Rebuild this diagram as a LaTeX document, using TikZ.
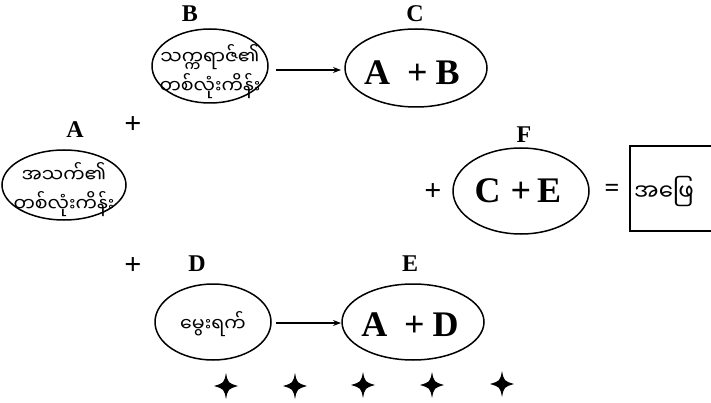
\documentclass[tikz,border=0pt]{standalone}
\usepackage{fontspec}
\usetikzlibrary{arrows.meta}
\setmainfont{Liberation Serif}
\newfontfamily\mya[Script=Myanmar]{Noto Sans Myanmar UI}
\begin{document}
\begin{tikzpicture}[x=1pt,y=-1pt,
  lbl/.style={font=\fontsize{24}{24}\selectfont\bfseries,inner sep=0pt},
  big/.style={font=\fontsize{36}{36}\selectfont\bfseries,inner sep=0pt},
  my/.style={font=\mya\fontsize{19}{29}\selectfont,align=center,inner sep=0pt},
  op/.style={font=\fontsize{30}{30}\selectfont\bfseries,inner sep=0pt},
  arr/.style={line width=1.2pt,-{Stealth[length=8pt,width=6pt]}},
  ov/.style={line width=1.5pt}
]
\useasboundingbox (0,0) rectangle (711,403);
\begin{scope}
\clip (0,0) rectangle (711,403);
% ellipses
\draw[ov] (210,66) ellipse [x radius=58, y radius=37];
\draw[ov] (416,68) ellipse [x radius=71, y radius=39];
\draw[ov] (64,185) ellipse [x radius=62, y radius=35];
\draw[ov] (213,322) ellipse [x radius=58, y radius=38];
\draw[ov] (413,322) ellipse [x radius=71, y radius=38];
\draw[ov] (521,191) ellipse [x radius=68, y radius=43];
% nodes
\node[my] (bt) at (210,72) {သက္ကရာဇ်၏\\တစ်လုံးကိန်း};
\node[my] (at) at (64,190) {အသက်၏\\တစ်လုံးကိန်း};
\node[my] (dt) at (213,324) {မွေးရက်};
\node[big] (ct) at (412,73) {A\hspace{17pt}+\hspace{8pt}B};
\node[big] (et) at (410,325) {A\hspace{17pt}+\hspace{8pt}D};
\node[big] (ft) at (518,191) {C\hspace{10pt}+\hspace{6pt}E};
\node[lbl] (bl) at (190,14) {B};
\node[lbl] (cl) at (415,14) {C};
\node[lbl] (al) at (75,130) {A};
\node[lbl] (dl) at (197,264) {D};
\node[lbl] (el) at (410,264) {E};
\node[lbl] (fl) at (524,135) {F};
\node[op] (p1) at (133,125) {+};
\node[op] (p2) at (133,266) {+};
\node[op] (p3) at (433,192) {+};
\node[font=\fontsize{26}{26}\selectfont\bfseries,inner sep=0pt] (eq) at (612,190) {=};
\draw[line width=1.2pt] (630,146) rectangle (760,231);
\node[font=\mya\fontsize{23}{26}\selectfont,anchor=west,inner sep=0pt] (ans) at (634,192) {အဖြေ};
% arrows
\coordinate (a1s) at (276,70); \coordinate (a1e) at (341,70);
\draw[arr] (a1s) -- (a1e);
\coordinate (a2s) at (276,323); \coordinate (a2e) at (341,323);
\draw[arr] (a2s) -- (a2e);
% stars
\foreach \x/\y in {226/386, 295/386, 363/385, 432/385, 502/384}{
  \fill (\x,\y-13) .. controls (\x+2,\y-3) .. (\x+12,\y)
        .. controls (\x+2,\y+3) .. (\x,\y+13)
        .. controls (\x-2,\y+3) .. (\x-12,\y)
        .. controls (\x-2,\y-3) .. cycle;
}
\end{scope}
\end{tikzpicture}
\end{document}
